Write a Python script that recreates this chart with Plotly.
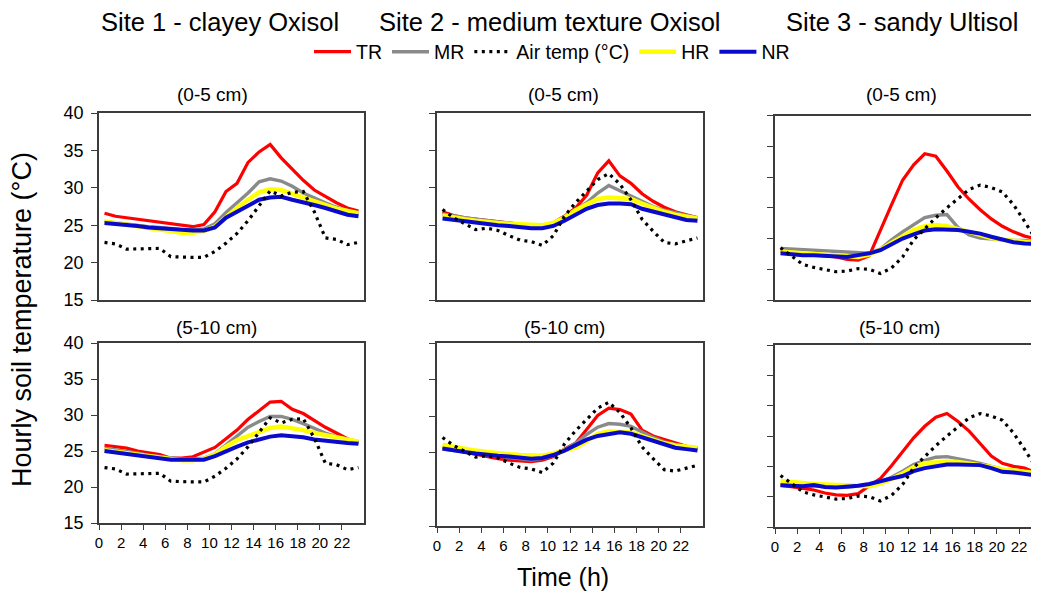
import plotly.graph_objects as go

W, H = 1039, 593

hours = [0.5, 1.5, 2.5, 3.5, 4.5, 5.5, 6.5, 7.5, 8.5, 9.5, 10.5, 11.5,
         12.5, 13.5, 14.5, 15.5, 16.5, 17.5, 18.5, 19.5, 20.5, 21.5, 22.5, 23.5]
x_tick_values = [0, 2, 4, 6, 8, 10, 12, 14, 16, 18, 20, 22]

site_titles = ["Site 1 - clayey Oxisol", "Site 2 - medium texture Oxisol", "Site 3 - sandy Ultisol"]
depth_labels = ["(0-5 cm)", "(5-10 cm)"]
series_names = ["TR", "MR", "Air temp (°C)", "HR", "NR"]

# Air temperature (same for both depths of a site)
air_s1 = [22.7, 22.5, 21.8, 21.8, 21.8, 21.9, 20.8, 20.7, 20.7, 20.7, 21.5, 22.6,
          23.9, 25.6, 27.6, 29.6, 28.9, 29.4, 29.5, 26.8, 23.3, 23.1, 22.4, 22.7]
air_s2 = [27.1, 26.0, 25.2, 24.4, 24.6, 24.3, 23.6, 23.0, 22.8, 22.3, 23.6, 26.2,
          28.0, 29.5, 31.1, 31.9, 30.5, 28.4, 25.8, 24.2, 22.7, 22.5, 22.9, 23.3]
air_s3 = [23.5, 22.1, 20.8, 20.3, 19.9, 19.6, 19.7, 20.1, 20.0, 19.3, 20.2, 22.0,
          24.8, 26.6, 28.4, 30.0, 31.5, 33.0, 33.7, 33.3, 32.6, 30.5, 27.8, 24.9]

# Site 1, 0-5 cm
tr_s1_d1 = [26.6, 26.2, 26.0, 25.8, 25.6, 25.4, 25.2, 24.9, 24.8, 25.1, 26.8, 29.5,
            30.6, 33.4, 34.8, 35.8, 34.0, 32.5, 31.0, 29.7, 28.8, 28.0, 27.3, 26.9]
mr_s1_d1 = [25.5, 25.3, 25.2, 25.0, 24.8, 24.7, 24.5, 24.4, 24.4, 24.5, 25.2, 26.7,
            28.0, 29.3, 30.8, 31.2, 30.9, 30.2, 29.3, 28.6, 28.0, 27.4, 26.9, 26.5]
hr_s1_d1 = [25.5, 25.3, 25.1, 24.9, 24.7, 24.5, 24.2, 24.0, 24.0, 24.2, 24.8, 26.1,
            27.3, 28.4, 29.4, 29.8, 29.7, 29.2, 28.7, 28.1, 27.6, 27.2, 26.9, 26.6]
nr_s1_d1 = [25.3, 25.2, 25.1, 24.9, 24.7, 24.6, 24.4, 24.3, 24.3, 24.3, 24.7, 26.0,
            26.8, 27.6, 28.4, 28.7, 28.8, 28.4, 28.1, 27.7, 27.3, 26.8, 26.4, 26.2]
# Site 1, 5-10 cm
tr_s1_d2 = [25.8, 25.6, 25.4, 25.0, 24.7, 24.5, 24.0, 24.0, 24.2, 24.8, 25.5, 26.7,
            27.9, 29.4, 30.6, 31.8, 31.9, 30.8, 30.2, 29.2, 28.3, 27.5, 26.7, 26.1]
mr_s1_d2 = [25.4, 25.2, 25.0, 24.7, 24.4, 24.2, 24.0, 23.9, 23.9, 24.0, 24.6, 25.8,
            27.1, 28.3, 29.1, 29.8, 29.8, 29.4, 28.8, 28.1, 27.5, 27.0, 26.6, 26.3]
hr_s1_d2 = [25.1, 24.9, 24.7, 24.5, 24.2, 24.0, 23.8, 23.7, 23.7, 23.9, 24.5, 25.6,
            26.5, 27.1, 27.7, 28.2, 28.4, 28.2, 27.9, 27.5, 27.2, 26.9, 26.6, 26.3]
nr_s1_d2 = [25.0, 24.8, 24.6, 24.4, 24.2, 24.0, 23.8, 23.8, 23.8, 23.8, 24.3, 25.0,
            25.6, 26.2, 26.6, 27.0, 27.2, 27.1, 26.9, 26.6, 26.4, 26.3, 26.1, 26.0]

# Site 2, 0-5 cm
tr_s2_d1 = [26.8, 26.3, 26.0, 25.8, 25.6, 25.4, 25.3, 25.1, 25.0, 25.0, 25.3, 26.2,
            27.3, 29.0, 32.0, 33.6, 31.6, 30.6, 29.2, 28.2, 27.4, 26.8, 26.4, 26.0]
mr_s2_d1 = [26.5, 26.2, 26.0, 25.8, 25.6, 25.4, 25.2, 25.1, 25.0, 25.0, 25.3, 26.1,
            27.0, 28.0, 29.3, 30.3, 29.6, 29.0, 28.2, 27.5, 27.0, 26.6, 26.3, 26.0]
hr_s2_d1 = [26.3, 26.0, 25.8, 25.6, 25.4, 25.3, 25.2, 25.1, 25.0, 25.0, 25.3, 26.0,
            27.0, 27.8, 28.5, 28.7, 28.6, 28.5, 27.9, 27.3, 26.8, 26.4, 26.1, 25.9]
nr_s2_d1 = [25.9, 25.7, 25.5, 25.3, 25.2, 25.0, 24.9, 24.7, 24.6, 24.6, 24.9, 25.6,
            26.4, 27.2, 27.7, 27.9, 27.9, 27.8, 27.2, 26.8, 26.4, 26.0, 25.7, 25.6]
# Site 2, 5-10 cm
tr_s2_d2 = [25.7, 25.4, 25.1, 24.8, 24.4, 24.2, 24.0, 23.9, 23.8, 24.0, 24.5, 25.5,
            26.3, 28.2, 30.1, 31.1, 30.9, 30.3, 28.1, 27.3, 26.8, 26.3, 25.9, 25.6]
mr_s2_d2 = [25.5, 25.3, 25.1, 24.9, 24.7, 24.5, 24.3, 24.1, 24.0, 24.2, 24.6, 25.4,
            26.3, 27.5, 28.5, 29.0, 28.9, 28.6, 27.8, 27.1, 26.5, 26.1, 25.8, 25.5]
hr_s2_d2 = [26.1, 25.8, 25.5, 25.3, 25.1, 24.9, 24.8, 24.7, 24.6, 24.6, 24.9, 25.3,
            25.7, 26.6, 27.6, 27.9, 27.9, 27.8, 27.3, 26.8, 26.3, 26.0, 25.9, 25.7]
nr_s2_d2 = [25.6, 25.3, 25.1, 24.9, 24.7, 24.6, 24.5, 24.3, 24.2, 24.3, 24.7, 25.3,
            26.0, 26.8, 27.3, 27.6, 27.8, 27.6, 27.1, 26.6, 26.1, 25.7, 25.5, 25.3]

# Site 3, 0-5 cm
tr_s3_d1 = [22.9, 22.7, 22.5, 22.3, 22.1, 22.0, 21.6, 21.5, 22.2, 26.5, 30.5, 34.5,
            37.0, 38.8, 38.4, 36.0, 33.4, 31.4, 29.7, 28.2, 27.0, 26.1, 25.4, 25.0]
mr_s3_d1 = [23.4, 23.3, 23.2, 23.1, 23.0, 22.8, 22.7, 22.6, 22.6, 23.3, 24.8, 26.1,
            27.2, 28.4, 28.8, 28.9, 26.8, 25.6, 25.1, 24.9, 24.8, 24.7, 24.7, 24.5]
hr_s3_d1 = [22.9, 22.7, 22.6, 22.5, 22.4, 22.3, 22.1, 22.0, 22.4, 23.2, 24.3, 25.4,
            26.4, 27.0, 27.2, 27.0, 26.6, 26.1, 25.6, 25.1, 24.8, 24.6, 24.4, 24.3]
nr_s3_d1 = [22.6, 22.4, 22.3, 22.3, 22.2, 22.1, 22.0, 22.3, 22.6, 23.1, 24.0, 25.0,
            25.7, 26.3, 26.5, 26.5, 26.4, 26.1, 25.8, 25.3, 24.8, 24.4, 24.2, 24.1]
# Site 3, 5-10 cm
tr_s3_d2 = [21.9, 21.6, 21.3, 21.1, 20.6, 20.3, 20.2, 20.5, 21.8, 23.0, 25.1, 27.5,
            29.7, 31.6, 33.1, 33.7, 32.4, 30.8, 28.8, 26.7, 25.5, 25.0, 24.7, 24.0]
mr_s3_d2 = [22.0, 21.9, 21.8, 21.8, 21.7, 21.6, 21.6, 21.7, 21.9, 22.5, 23.2, 24.2,
            25.3, 26.0, 26.5, 26.6, 26.3, 25.9, 25.5, 25.0, 24.5, 24.2, 24.0, 23.8]
hr_s3_d2 = [22.6, 22.4, 22.3, 22.1, 22.0, 21.9, 21.8, 21.7, 21.7, 22.2, 22.9, 23.8,
            24.9, 25.5, 25.7, 25.8, 25.7, 25.5, 25.2, 24.9, 24.5, 24.3, 24.1, 23.9]
nr_s3_d2 = [21.9, 21.8, 21.7, 21.9, 21.6, 21.5, 21.6, 21.8, 22.1, 22.6, 23.0, 23.4,
            24.2, 24.7, 25.0, 25.3, 25.3, 25.2, 25.2, 24.7, 24.1, 24.0, 23.8, 23.5]

y_ticks_a = [15, 20, 25, 30, 35, 40]
y_ticks_b = [15, 20, 25, 30, 35, 40, 45]

# ---------------------------------------------------------------- layout helpers
# the page body adds an 8 px offset, so screen pixels are shifted back by it
OFF = 8


def fx(px):
    return (px - OFF) / W


def fy(py):
    return 1 - (py - OFF) / H


col_x = [(99, 364), (437, 703), (775, 1039)]
col_xrange = [[0, 24], [0, 24], [0, 23.8]]
row_y = {  # (row, col): (top px, bottom px)
    (0, 0): (113, 300), (0, 1): (113, 300), (0, 2): (115.7, 300),
    (1, 0): (343, 523), (1, 1): (343, 526), (1, 2): (345, 527),
}
col_yrange = [[15, 40], [15, 40], [15, 45]]

panels = [
    # (row, col, TR, MR, air, HR, NR)
    (0, 0, tr_s1_d1, mr_s1_d1, air_s1, hr_s1_d1, nr_s1_d1),
    (0, 1, tr_s2_d1, mr_s2_d1, air_s2, hr_s2_d1, nr_s2_d1),
    (0, 2, tr_s3_d1, mr_s3_d1, air_s3, hr_s3_d1, nr_s3_d1),
    (1, 0, tr_s1_d2, mr_s1_d2, air_s1, hr_s1_d2, nr_s1_d2),
    (1, 1, tr_s2_d2, mr_s2_d2, air_s2, hr_s2_d2, nr_s2_d2),
    (1, 2, tr_s3_d2, mr_s3_d2, air_s3, hr_s3_d2, nr_s3_d2),
]

colors = {"TR": "#FF0000", "MR": "#8A8A8A", "Air temp (°C)": "#000000",
          "HR": "#FFFF00", "NR": "#0A0ACC"}
widths = {"TR": 3.2, "MR": 3.4, "Air temp (°C)": 3.2, "HR": 4.5, "NR": 4.0}
rank = {"TR": 1, "MR": 2, "Air temp (°C)": 3, "HR": 4, "NR": 5}
draw_order = ["TR", "MR", "HR", "NR", "Air temp (°C)"]

fig = go.Figure()
FONT = "Liberation Sans, Arial, sans-serif"
AXC = "#3c3c3c"

layout = dict(
    width=W, height=H,
    margin=dict(l=0, r=0, t=0, b=0, pad=0, autoexpand=False),
    paper_bgcolor="white", plot_bgcolor="white",
    font=dict(family=FONT, color="black"),
    showlegend=True,
    legend=dict(orientation="h", x=fx(309), xanchor="left", y=fy(52), yanchor="middle",
                font=dict(size=19.5, family=FONT), bgcolor="rgba(0,0,0,0)",
                traceorder="normal", itemwidth=37, tracegroupgap=0),
)

for i, (r, c, tr, mr, air, hr, nr) in enumerate(panels):
    n = i + 1
    xa = "x" if n == 1 else f"x{n}"
    ya = "y" if n == 1 else f"y{n}"
    data = {"TR": tr, "MR": mr, "Air temp (°C)": air, "HR": hr, "NR": nr}
    for name in draw_order:
        line = dict(color=colors[name], width=widths[name])
        if name == "Air temp (°C)":
            line["dash"] = "3px,4.5px"
        fig.add_trace(go.Scatter(
            x=hours, y=data[name], mode="lines", name=name, line=line,
            xaxis=xa, yaxis=ya, showlegend=(n == 1), legendrank=rank[name],
            hoverinfo="skip"))

    top, bot = row_y[(r, c)]
    xkey = "xaxis" if n == 1 else f"xaxis{n}"
    ykey = "yaxis" if n == 1 else f"yaxis{n}"
    layout[xkey] = dict(
        domain=[fx(col_x[c][0]), fx(col_x[c][1])], range=col_xrange[c],
        anchor=ya, showline=True, linecolor=AXC, linewidth=1.6, mirror=True,
        showgrid=False, zeroline=False, automargin=False,
        tickmode="array", tickvals=x_tick_values,
        ticks="outside" if r == 1 else "", ticklen=5, tickwidth=1.3, tickcolor=AXC,
        showticklabels=(r == 1), tickangle=0,
        tickfont=dict(size=15, family=FONT, color="black"),
    )
    yt = y_ticks_b if c == 2 else y_ticks_a
    layout[ykey] = dict(
        domain=[fy(bot), fy(top)], range=col_yrange[c],
        anchor=xa, showline=True, linecolor=AXC, linewidth=1.6, mirror=(c != 2),
        showgrid=False, zeroline=False, automargin=False,
        tickmode="array", tickvals=yt,
        ticks="outside", ticklen=6, tickwidth=1.3, tickcolor=AXC,
        showticklabels=(c == 0),
        tickfont=dict(size=18, family=FONT, color="black"), ticklabelstandoff=4,
    )

annotations = []
title_x = [220, 550, 902]
for t, tx in zip(site_titles, title_x):
    annotations.append(dict(text=t, x=fx(tx), y=fy(22), xref="paper", yref="paper",
                            xanchor="center", yanchor="middle", showarrow=False,
                            font=dict(size=25.5, family=FONT, color="black")))
sub_x = [[212, 563, 901], [216, 564, 899]]
sub_y = [94, 327]
for r in range(2):
    for c in range(3):
        annotations.append(dict(text=depth_labels[r], x=fx(sub_x[r][c]), y=fy(sub_y[r]),
                                xref="paper", yref="paper", xanchor="center",
                                yanchor="middle", showarrow=False,
                                font=dict(size=19, family=FONT, color="black")))
annotations.append(dict(text="Hourly soil temperature (°C)", x=fx(22), y=fy(320),
                        xref="paper", yref="paper", xanchor="center", yanchor="middle",
                        textangle=-90, showarrow=False,
                        font=dict(size=27, family=FONT, color="black")))
annotations.append(dict(text="Time (h)", x=fx(563), y=fy(577), xref="paper", yref="paper",
                        xanchor="center", yanchor="middle", showarrow=False,
                        font=dict(size=25, family=FONT, color="black")))
layout["annotations"] = annotations

fig.update_layout(**layout)
fig.write_html("out.html")
